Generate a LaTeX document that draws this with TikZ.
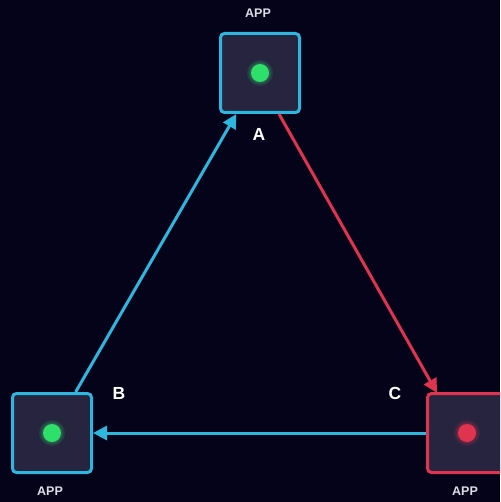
\documentclass[tikz,border=0pt]{standalone}
\usepackage{fontspec}
\setmainfont{Liberation Sans}
\usetikzlibrary{arrows.meta,calc}
\definecolor{bgcol}{HTML}{05031A}
\definecolor{boxfill}{HTML}{27243F}
\definecolor{bluecol}{HTML}{2DB6DE}
\definecolor{redcol}{HTML}{E03350}
\definecolor{greencol}{HTML}{2EE06B}
\definecolor{appcol}{HTML}{DCDCE4}
\tikzset{
  appbox/.style={draw, fill=boxfill, line width=3pt, rounded corners=4pt,
    minimum width=79pt, minimum height=79pt, inner sep=0pt},
  bluebox/.style={appbox, draw=bluecol},
  redbox/.style={appbox, draw=redcol},
  applabel/.style={text=appcol, font=\fontsize{12.5}{14}\selectfont\bfseries, inner sep=0pt},
  letterlabel/.style={text=white, font=\fontsize{17.5}{20}\selectfont\bfseries, inner sep=0pt},
  conn/.style={line width=3pt, -{Triangle[length=14pt,width=14pt]}},
  glow/.style={fill=#1, opacity=0.12},
}
\begin{document}
\begin{tikzpicture}[x=1pt,y=-1pt]
\useasboundingbox (0,0) rectangle (500,502);
\clip (0,0) rectangle (500,502);
\fill[bgcol] (0,0) rectangle (500,502);
% boxes
\node[bluebox] (A) at (260,73) {};
\node[bluebox] (B) at (52,433) {};
\node[redbox]  (C) at (467,433) {};
% dots
\foreach \n/\c in {A/greencol,B/greencol,C/redcol}{
  \fill[glow=\c] (\n.center) circle (13);
  \fill[glow=\c] (\n.center) circle (11.5);
  \fill[glow=\c] (\n.center) circle (10.3);
  \fill[\c] (\n.center) circle (9);
}
% labels
\node[applabel] (tA) at (258,13) {APP};
\node[applabel] (tB) at (50,491) {APP};
\node[applabel] (tC) at (465,491) {APP};
\node[letterlabel] (lA) at (259,134) {A};
\node[letterlabel] (lB) at (119,393) {B};
\node[letterlabel] (lC) at (395,393) {C};
% connectors
\draw[conn, bluecol] (B) -- (A);
\draw[conn, redcol] ([xshift=19pt]A.south) -- ([xshift=-30pt,yshift=-1pt]C.north);
\draw[conn, bluecol] (C) -- (B);
\end{tikzpicture}
\end{document}
